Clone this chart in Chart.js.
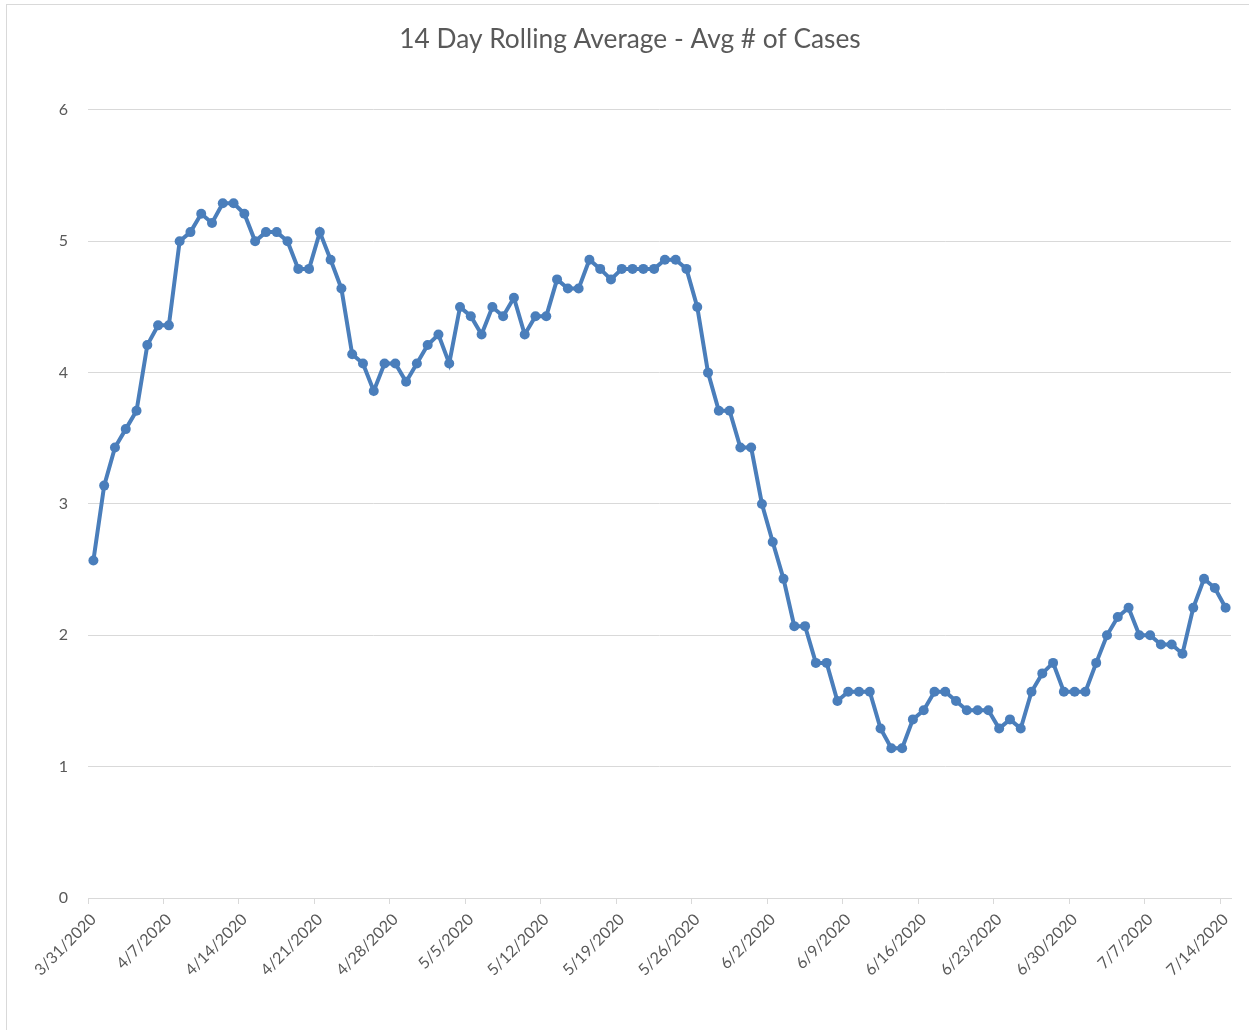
<!DOCTYPE html>
<html>
<head>
<meta charset="utf-8">
<title>14 Day Rolling Average - Avg # of Cases</title>
<script src="https://cdn.jsdelivr.net/npm/chart.js@4.4.1/dist/chart.umd.min.js"></script>
<style>
    html, body { margin: 0; padding: 0; background: #fff; }
    #wrap { position: relative; width: 1249px; height: 1030px; overflow: hidden; }
    #frame {
        position: absolute; left: 6px; top: 4px; width: 1400px; height: 1200px;
        border-left: 1px solid #d9d9d9; border-top: 1px solid #d9d9d9;
    }
    #chart { position: absolute; left: 0; top: 0; }
</style>
</head>
<body>
<div id="wrap">
    <div id="frame"></div>
    <canvas id="chart" width="1249" height="1030"></canvas>
</div>
<script>
// one point per day, 3/31/2020 - 7/14/2020
const dates = [
    '3/31/2020',
    '4/1/2020', '4/2/2020', '4/3/2020', '4/4/2020', '4/5/2020', '4/6/2020', '4/7/2020', '4/8/2020', '4/9/2020', '4/10/2020',
    '4/11/2020', '4/12/2020', '4/13/2020', '4/14/2020', '4/15/2020', '4/16/2020', '4/17/2020', '4/18/2020', '4/19/2020', '4/20/2020',
    '4/21/2020', '4/22/2020', '4/23/2020', '4/24/2020', '4/25/2020', '4/26/2020', '4/27/2020', '4/28/2020', '4/29/2020', '4/30/2020',
    '5/1/2020', '5/2/2020', '5/3/2020', '5/4/2020', '5/5/2020', '5/6/2020', '5/7/2020', '5/8/2020', '5/9/2020', '5/10/2020',
    '5/11/2020', '5/12/2020', '5/13/2020', '5/14/2020', '5/15/2020', '5/16/2020', '5/17/2020', '5/18/2020', '5/19/2020', '5/20/2020',
    '5/21/2020', '5/22/2020', '5/23/2020', '5/24/2020', '5/25/2020', '5/26/2020', '5/27/2020', '5/28/2020', '5/29/2020', '5/30/2020',
    '5/31/2020',
    '6/1/2020', '6/2/2020', '6/3/2020', '6/4/2020', '6/5/2020', '6/6/2020', '6/7/2020', '6/8/2020', '6/9/2020', '6/10/2020',
    '6/11/2020', '6/12/2020', '6/13/2020', '6/14/2020', '6/15/2020', '6/16/2020', '6/17/2020', '6/18/2020', '6/19/2020', '6/20/2020',
    '6/21/2020', '6/22/2020', '6/23/2020', '6/24/2020', '6/25/2020', '6/26/2020', '6/27/2020', '6/28/2020', '6/29/2020', '6/30/2020',
    '7/1/2020', '7/2/2020', '7/3/2020', '7/4/2020', '7/5/2020', '7/6/2020', '7/7/2020', '7/8/2020', '7/9/2020', '7/10/2020',
    '7/11/2020', '7/12/2020', '7/13/2020', '7/14/2020',
];

const avgCases = [
    2.57,
    3.14, 3.43, 3.57, 3.71, 4.21, 4.36, 4.36, 5.00, 5.07, 5.21,
    5.14, 5.29, 5.29, 5.21, 5.00, 5.07, 5.07, 5.00, 4.79, 4.79,
    5.07, 4.86, 4.64, 4.14, 4.07, 3.86, 4.07, 4.07, 3.93, 4.07,
    4.21, 4.29, 4.07, 4.50, 4.43, 4.29, 4.50, 4.43, 4.57, 4.29,
    4.43, 4.43, 4.71, 4.64, 4.64, 4.86, 4.79, 4.71, 4.79, 4.79,
    4.79, 4.79, 4.86, 4.86, 4.79, 4.50, 4.00, 3.71, 3.71, 3.43,
    3.43,
    3.00, 2.71, 2.43, 2.07, 2.07, 1.79, 1.79, 1.50, 1.57, 1.57,
    1.57, 1.29, 1.14, 1.14, 1.36, 1.43, 1.57, 1.57, 1.50, 1.43,
    1.43, 1.43, 1.29, 1.36, 1.29, 1.57, 1.71, 1.79, 1.57, 1.57,
    1.57, 1.79, 2.00, 2.14, 2.21, 2.00, 2.00, 1.93, 1.93, 1.86,
    2.21, 2.43, 2.36, 2.21,
];

const xTickLabels = [
    '3/31/2020', '4/7/2020', '4/14/2020', '4/21/2020', '4/28/2020', '5/5/2020', '5/12/2020', '5/19/2020',
    '5/26/2020', '6/2/2020', '6/9/2020', '6/16/2020', '6/23/2020', '6/30/2020', '7/7/2020', '7/14/2020',
];

const yTicks = [0, 1, 2, 3, 4, 5, 6];

const textColor = '#595959';
const gridColor = '#d9d9d9';
const lineColor = '#4a7ebb';

new Chart(document.getElementById('chart'), {
    type: 'line',
    data: {
        labels: dates,
        datasets: [
            {
                label: 'Avg # of Cases',
                data: avgCases,
                borderColor: lineColor,
                backgroundColor: lineColor,
                borderWidth: 4,
                pointRadius: 5,
                pointBorderWidth: 0,
                pointBackgroundColor: lineColor,
                tension: 0,
            },
        ],
    },
    options: {
        responsive: false,
        animation: false,
        layout: { padding: { left: 29, right: 18, top: 0, bottom: 0 } },
        plugins: {
            legend: { display: false },
            tooltip: { enabled: false },
            title: {
                display: true,
                text: '14 Day Rolling Average - Avg # of Cases',
                color: textColor,
                font: { family: 'Lato', size: 26.3, weight: 'normal' },
                padding: { top: 24, bottom: 54.4 },
            },
        },
        scales: {
            x: {
                offset: true,
                afterFit: scale => { scale.height = 132; },
                grid: {
                    offset: true,
                    drawOnChartArea: false,
                    drawTicks: true,
                    tickLength: 6,
                    // tick marks only at the labelled weekly dates
                    color: ctx => (ctx.tick && xTickLabels.includes(dates[ctx.index]) ? gridColor : 'rgba(0,0,0,0)'),
                },
                border: { color: gridColor, width: 1 },
                ticks: {
                    autoSkip: false,
                    minRotation: 45,
                    maxRotation: 45,
                    padding: 6,
                    color: textColor,
                    font: { family: 'Lato', size: 16 },
                    callback: function (value, index) {
                        const label = dates[index];
                        return xTickLabels.includes(label) ? label : '';
                    },
                },
            },
            y: {
                min: yTicks[0],
                max: yTicks[yTicks.length - 1],
                afterFit: scale => { scale.width = 59; },
                afterBuildTicks: scale => { scale.ticks = yTicks.map(v => ({ value: v })); },
                grid: { color: gridColor, drawTicks: false },
                border: { display: false },
                ticks: {
                    padding: 20,
                    color: textColor,
                    font: { family: 'Lato', size: 16 },
                },
            },
        },
    },
});
</script>
</body>
</html>
